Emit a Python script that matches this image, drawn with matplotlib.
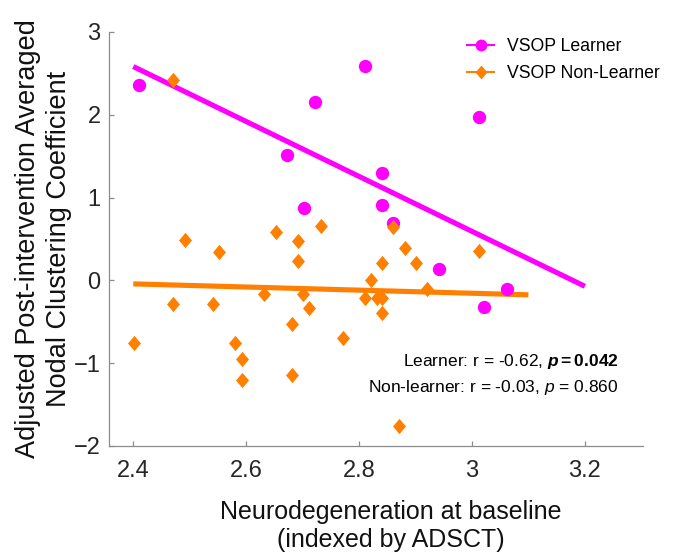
import numpy as np
import matplotlib
matplotlib.use("Agg")
import matplotlib.pyplot as plt
from matplotlib.lines import Line2D
from matplotlib.path import Path

plt.rcParams['font.family'] = ['Liberation Sans', 'DejaVu Sans']
plt.rcParams['mathtext.fontset'] = 'custom'
plt.rcParams['mathtext.rm'] = 'Liberation Sans'
plt.rcParams['mathtext.it'] = 'Liberation Sans:italic'
plt.rcParams['mathtext.bf'] = 'Liberation Sans:bold'
plt.rcParams['mathtext.bfit'] = 'Liberation Sans:italic:bold'

# VSOP learners
learner_x = [2.411, 2.673, 2.702, 2.722, 2.811, 2.841, 2.841, 2.861, 2.942, 3.012, 3.022, 3.062]
learner_y = [2.36, 1.51, 0.876, 2.15, 2.59, 1.30, 0.91, 0.69, 0.14, 1.97, -0.32, -0.10]

# VSOP non-learners
nonlearner_x = [2.402, 2.471, 2.471, 2.492, 2.541, 2.552, 2.580, 2.592, 2.592, 2.632,
                2.653, 2.681, 2.681, 2.692, 2.692, 2.701, 2.712, 2.732, 2.772, 2.811,
                2.821, 2.831, 2.841, 2.841, 2.841, 2.861, 2.871, 2.881, 2.901, 2.921, 3.012]
nonlearner_y = [-0.75, -0.29, 2.42, 0.49, -0.29, 0.34, -0.76, -0.95, -1.20, -0.17,
                0.59, -0.53, -1.14, 0.47, 0.24, -0.17, -0.33, 0.66, -0.70, -0.21,
                0.01, -0.21, 0.21, -0.21, -0.39, 0.65, -1.76, 0.39, 0.21, -0.10, 0.35]

# x range of the fitted lines
learner_fit_range = [2.4, 3.2]
nonlearner_fit_range = [2.4, 3.1]

magenta = '#ff00ff'
orange = '#ff8000'
diamond = Path([(0, 1), (0.85, 0), (0, -1), (-0.85, 0), (0, 1)],
               [Path.MOVETO, Path.LINETO, Path.LINETO, Path.LINETO, Path.CLOSEPOLY])

fig = plt.figure(figsize=(6.73, 5.52), dpi=100)
ax = fig.add_axes([109 / 673, 106 / 552, 534 / 673, 414 / 552])

for xs, ys, rng, c in [(learner_x, learner_y, learner_fit_range, magenta),
                       (nonlearner_x, nonlearner_y, nonlearner_fit_range, orange)]:
    k, b = np.polyfit(xs, ys, 1)
    fx = np.array(rng)
    ax.plot(fx, k * fx + b, color=c, linewidth=3.7, solid_capstyle='butt', zorder=1)

ax.plot(learner_x, learner_y, 'o', color=magenta, markersize=9.6, markeredgewidth=0, zorder=2)
ax.plot(nonlearner_x, nonlearner_y, linestyle='none', marker=diamond, color=orange,
        markersize=11, markeredgewidth=0, zorder=3)

ax.set_xlim(2.357, 3.303)
ax.set_ylim(-2, 3)
ax.set_xticks([2.4, 2.6, 2.8, 3.0, 3.2])
ax.set_xticklabels(['2.4', '2.6', '2.8', '3', '3.2'])
ax.set_yticks([-2, -1, 0, 1, 2, 3])

ax.spines["top"].set_visible(False)
ax.spines["right"].set_visible(False)
for s in ['left', 'bottom']:
    ax.spines[s].set_color('#8c8c8c')
    ax.spines[s].set_linewidth(0.9)
ax.tick_params(direction='in', length=3.6, width=0.9, color='#8c8c8c',
               labelsize=17, labelcolor='#262626')
ax.tick_params(axis='x', pad=10)
ax.tick_params(axis='y', pad=6)

ax.set_xlabel("Neurodegeneration at baseline\n(indexed by ADSCT)", fontsize=18,
              color='#111111', linespacing=1.2)
ax.xaxis.set_label_coords(0.528, -0.13)
ax.set_ylabel("Adjusted Post-intervention Averaged\nNodal Clustering Coefficient",
              fontsize=19.5, color='#111111', linespacing=1.25)
ax.yaxis.set_label_coords(-0.07, 0.5)

handles = [Line2D([], [], color=magenta, linewidth=1.5, marker='o', markersize=8.5,
                  markeredgewidth=0),
           Line2D([], [], color=orange, linewidth=1.5, marker=diamond, markersize=10,
                  markeredgewidth=0)]
ax.legend(handles, ['VSOP Learner', 'VSOP Non-Learner'], frameon=False, fontsize=12.7,
          loc='upper left', bbox_to_anchor=(467 / 673, 1 - 38 / 552),
          bbox_transform=fig.transFigure, borderpad=0, borderaxespad=0,
          handlelength=1.55, handletextpad=0.7, labelspacing=0.55)

ax.text(0.955, 0.205, r"Learner: r = -0.62, $\mathbfit{p}\mathbf{=0.042}$",
        transform=ax.transAxes, ha='right', va='center', fontsize=12.5)
ax.text(0.955, 0.1425, r"Non-learner: r = -0.03, $p$ = 0.860",
        transform=ax.transAxes, ha='right', va='center', fontsize=12.5)

fig.savefig("out.png", dpi=100)
